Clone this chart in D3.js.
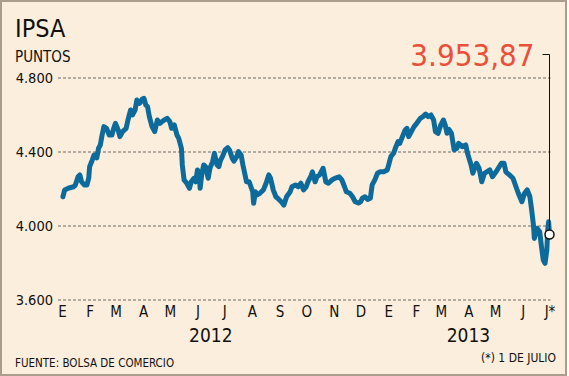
<!DOCTYPE html>
<html>
<head>
<meta charset="utf-8">
<script src="https://cdn.jsdelivr.net/npm/d3@7"></script>
<style>
    html, body { margin: 0; padding: 0; background: #ffffff; }
    svg { display: block; }
    text { font-family: "DejaVu Sans Condensed", "DejaVu Sans", sans-serif; font-stretch: condensed; }
</style>
</head>
<body>
<div id="chart-area"></div>
<script>
// IPSA closing points
const dates = [
    "2012-01-02","2012-01-04","2012-01-08","2012-01-14","2012-01-16","2012-01-19","2012-01-21","2012-01-23","2012-01-26","2012-01-29",
    "2012-01-31","2012-02-01","2012-02-04","2012-02-06","2012-02-09","2012-02-11","2012-02-13","2012-02-15","2012-02-17","2012-02-20",
    "2012-02-23","2012-02-26","2012-02-28","2012-03-01","2012-03-04","2012-03-06","2012-03-09","2012-03-13","2012-03-15","2012-03-18",
    "2012-03-20","2012-03-23","2012-03-25","2012-03-28","2012-03-31","2012-04-02","2012-04-04","2012-04-06","2012-04-08","2012-04-11",
    "2012-04-14","2012-04-17","2012-04-20","2012-04-23","2012-04-25","2012-04-28","2012-05-01","2012-05-03","2012-05-06","2012-05-09",
    "2012-05-11","2012-05-14","2012-05-15","2012-05-17","2012-05-20","2012-05-23","2012-05-25","2012-05-28","2012-05-30","2012-06-01",
    "2012-06-03","2012-06-04","2012-06-06","2012-06-08","2012-06-10","2012-06-13","2012-06-15","2012-06-18","2012-06-20","2012-06-23",
    "2012-06-25","2012-06-27","2012-06-29","2012-07-02","2012-07-05","2012-07-07","2012-07-10","2012-07-12","2012-07-15","2012-07-17",
    "2012-07-20","2012-07-22","2012-07-24","2012-07-26","2012-07-29","2012-07-31","2012-08-02","2012-08-03","2012-08-05","2012-08-07",
    "2012-08-10","2012-08-14","2012-08-17","2012-08-20","2012-08-22","2012-08-25","2012-08-28","2012-08-30","2012-09-03","2012-09-06",
    "2012-09-09","2012-09-13","2012-09-15","2012-09-19","2012-09-22","2012-09-25","2012-09-28","2012-10-01","2012-10-03","2012-10-06",
    "2012-10-08","2012-10-11","2012-10-13","2012-10-16","2012-10-20","2012-10-23","2012-10-26","2012-10-30","2012-11-02","2012-11-07",
    "2012-11-10","2012-11-13","2012-11-15","2012-11-19","2012-11-22","2012-11-25","2012-11-29","2012-12-01","2012-12-03","2012-12-06",
    "2012-12-09","2012-12-12","2012-12-14","2012-12-17","2012-12-20","2012-12-23","2012-12-27","2012-12-31","2013-01-02","2013-01-04",
    "2013-01-07","2013-01-09","2013-01-12","2013-01-14","2013-01-17","2013-01-20","2013-01-22","2013-01-24","2013-01-27","2013-01-30",
    "2013-02-02","2013-02-06","2013-02-09","2013-02-12","2013-02-15","2013-02-18","2013-02-21","2013-02-23","2013-02-26","2013-03-01",
    "2013-03-04","2013-03-06","2013-03-08","2013-03-10","2013-03-13","2013-03-16","2013-03-19","2013-03-21","2013-03-25","2013-03-29",
    "2013-03-31","2013-04-04","2013-04-06","2013-04-10","2013-04-13","2013-04-16","2013-04-19","2013-04-25","2013-04-28","2013-05-02",
    "2013-05-08","2013-05-11","2013-05-13","2013-05-17","2013-05-21","2013-05-23","2013-05-27","2013-05-31","2013-06-03","2013-06-06",
    "2013-06-09","2013-06-11","2013-06-13","2013-06-14","2013-06-17","2013-06-20","2013-06-22","2013-06-24","2013-06-26","2013-06-28",
    "2013-06-29","2013-06-30","2013-07-01"
];
const values = [
    4158,4195,4204,4212,4222,4266,4276,4239,4222,4222,
    4259,4321,4357,4384,4368,4420,4438,4492,4537,4528,
    4492,4492,4528,4555,4519,4483,4510,4528,4573,4627,
    4600,4627,4681,4663,4686,4690,4654,4645,4591,4537,
    4510,4573,4555,4567,4573,4582,4564,4528,4546,4492,
    4474,4420,4330,4249,4231,4204,4239,4258,4239,4303,
    4276,4204,4285,4330,4321,4258,4312,4348,4393,4330,
    4321,4357,4375,4411,4423,4411,4366,4351,4375,4402,
    4384,4330,4285,4239,4239,4212,4185,4123,4185,4168,
    4177,4195,4231,4276,4258,4195,4158,4150,4131,4113,
    4158,4185,4212,4222,4212,4231,4195,4212,4239,4266,
    4293,4239,4266,4276,4312,4239,4231,4249,4258,4266,
    4249,4212,4185,4177,4158,4131,4124,4131,4150,4158,
    4144,4150,4222,4249,4285,4293,4293,4303,4339,4375,
    4393,4420,4456,4447,4483,4519,4528,4483,4510,4537,
    4555,4582,4591,4605,4591,4600,4573,4510,4501,4546,
    4573,4546,4501,4523,4501,4411,4420,4447,4429,4438,
    4393,4330,4285,4339,4312,4239,4285,4303,4266,4293,
    4339,4339,4293,4276,4258,4231,4177,4131,4177,4195,
    4158,4086,4005,3933,3988,3969,3888,3816,3798,3870,
    3978,4023,3953.87
];

// axis labels
const yTicks = [3600, 4000, 4400, 4800];
const yTickLabels = ["3.600", "4.000", "4.400", "4.800"];
const monthLabels = ["E","F","M","A","M","J","J","A","S","O","N","D","E","F","M","A","M","J","J*"];
const yearLabels = ["2012", "2013"];
const yearDates = ["2012-06-16", "2013-04-01"];
const lastLabel = "3.953,87";

class IpsaChart {
    constructor(_parentElement, _data) {
        this.parentElement = _parentElement;
        this.data = _data;
        this.initVis();
    }

    initVis() {
        let vis = this;
        vis.width = 569;
        vis.height = 376;

        vis.svg = d3.select("#" + vis.parentElement).append("svg")
            .attr("width", vis.width)
            .attr("height", vis.height);

        // background + frame
        vis.svg.append("rect")
            .attr("x", 1).attr("y", 1)
            .attr("width", 565).attr("height", 374)
            .attr("fill", "#fbeedc")
            .attr("stroke", "#a99d8e")
            .attr("stroke-width", 2);

        vis.parse = d3.utcParse("%Y-%m-%d");

        vis.x = d3.scaleUtc()
            .domain([vis.parse("2012-01-01"), vis.parse("2013-07-01")])
            .range([62, 549.5]);

        vis.y = d3.scaleLinear()
            .domain([3600, 4800])
            .range([300, 78]);

        // titles
        vis.svg.append("text")
            .attr("x", 15).attr("y", 37)
            .attr("font-size", 25)
            .attr("fill", "#111")
            .text("IPSA");

        vis.svg.append("text")
            .attr("x", 15).attr("y", 62)
            .attr("font-size", 15)
            .attr("fill", "#111")
            .text("PUNTOS");

        vis.updateVis();
    }

    updateVis() {
        let vis = this;
        let last = vis.data[vis.data.length - 1];
        let lastX = vis.x(last.date);

        // dashed grid lines
        vis.svg.append("g")
            .selectAll("line")
            .data(yTicks)
            .enter()
            .append("line")
            .attr("x1", 58)
            .attr("x2", lastX + 1)
            .attr("y1", d => vis.y(d))
            .attr("y2", d => vis.y(d))
            .attr("stroke", "#6e6a66")
            .attr("stroke-width", 1)
            .attr("stroke-dasharray", "3,2");

        vis.svg.append("g")
            .selectAll("text")
            .data(yTicks)
            .enter()
            .append("text")
            .attr("x", 53)
            .attr("y", d => vis.y(d) + 5)
            .attr("text-anchor", "end")
            .attr("font-size", 14.5)
            .attr("fill", "#111")
            .text((d, i) => yTickLabels[i]);

        // month axis
        let monthDates = d3.utcMonth.range(vis.parse("2012-01-01"), vis.parse("2013-07-02"));
        vis.xAxis = d3.axisBottom(vis.x)
            .tickValues(monthDates)
            .tickSize(0)
            .tickPadding(0)
            .tickFormat((d, i) => monthLabels[i]);

        let axisG = vis.svg.append("g")
            .attr("class", "x-axis axis")
            .attr("transform", "translate(0,306)")
            .call(vis.xAxis);
        axisG.select(".domain").remove();
        axisG.selectAll("text")
            .attr("font-size", 15)
            .attr("font-family", "\"DejaVu Sans Condensed\", \"DejaVu Sans\", sans-serif")
            .attr("fill", "#111")
            .attr("dy", "0.74em");

        vis.svg.append("g")
            .selectAll("text")
            .data(yearLabels)
            .enter()
            .append("text")
            .attr("x", (d, i) => vis.x(vis.parse(yearDates[i])))
            .attr("y", 342)
            .attr("text-anchor", "middle")
            .attr("font-size", 19)
            .attr("fill", "#111")
            .text(d => d);

        // index line
        let lineFunc = d3.line()
            .x(d => vis.x(d.date))
            .y(d => vis.y(d.value))
            .curve(d3.curveLinear);

        vis.svg.append("path")
            .datum(vis.data)
            .attr("d", lineFunc)
            .attr("fill", "none")
            .attr("stroke", "#0d6b9b")
            .attr("stroke-width", 5)
            .attr("stroke-linejoin", "round")
            .attr("stroke-linecap", "round");

        // callout for the last value
        vis.svg.append("path")
            .attr("d", `M${lastX - 7},54.5H${lastX}V${vis.y(last.value)}`)
            .attr("fill", "none")
            .attr("stroke", "#111")
            .attr("stroke-width", 1);

        vis.svg.append("circle")
            .attr("cx", lastX)
            .attr("cy", vis.y(last.value))
            .attr("r", 4.5)
            .attr("fill", "#ffffff")
            .attr("stroke", "#111")
            .attr("stroke-width", 1.5);

        vis.svg.append("text")
            .attr("x", lastX - 15)
            .attr("y", 66)
            .attr("text-anchor", "end")
            .attr("font-size", 31)
            .attr("fill", "#e9503a")
            .text(lastLabel);

        // footer notes
        vis.svg.append("text")
            .attr("x", 15).attr("y", 367)
            .attr("font-size", 11.5)
            .attr("fill", "#111")
            .text("FUENTE: BOLSA DE COMERCIO");

        vis.svg.append("text")
            .attr("x", 556).attr("y", 362)
            .attr("text-anchor", "end")
            .attr("font-size", 12)
            .attr("fill", "#111")
            .text("(*) 1 DE JULIO");
    }
}

const parseDate = d3.utcParse("%Y-%m-%d");
const ipsaData = dates.map((d, i) => ({ date: parseDate(d), value: values[i] }));
new IpsaChart("chart-area", ipsaData);
</script>
</body>
</html>
